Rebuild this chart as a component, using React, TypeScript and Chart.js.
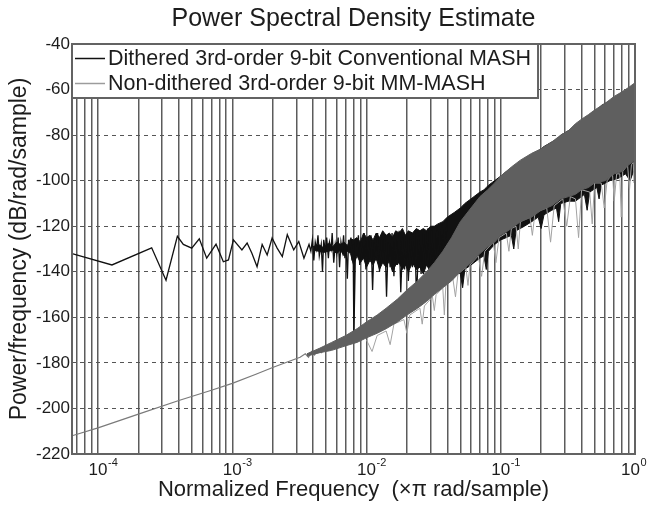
import React, { useEffect, useRef } from 'react';
import { Chart, registerables } from 'chart.js';

Chart.register(...registerables);

const FONT = '"Liberation Sans", Arial, Helvetica, sans-serif';
const TEXT = '#1c1c1c';

const TITLE = 'Power Spectral Density Estimate';
const X_TITLE = 'Normalized Frequency  (\u00d7\u03c0 rad/sample)';
const Y_TITLE = 'Power/frequency (dB/rad/sample)';
const SERIES_NAMES = [
  'Dithered 3rd-order 9-bit Conventional MASH',
  'Non-dithered 3rd-order 9-bit MM-MASH',
];

const X_MIN = 6.4e-5;
const X_MAX = 1;
const Y_MIN = -220;
const Y_MAX = -40;
const Y_STEP = 20;

// grid positions of the log axis (1..9 x 10^k)
const X_GRID_TICKS = [
  7e-5, 8e-5, 9e-5,
  1e-4, 2e-4, 3e-4, 4e-4, 5e-4, 6e-4, 7e-4, 8e-4, 9e-4,
  1e-3, 2e-3, 3e-3, 4e-3, 5e-3, 6e-3, 7e-3, 8e-3, 9e-3,
  1e-2, 2e-2, 3e-2, 4e-2, 5e-2, 6e-2, 7e-2, 8e-2, 9e-2,
  1e-1, 2e-1, 3e-1, 4e-1, 5e-1, 6e-1, 7e-1, 8e-1, 9e-1,
  1,
];
const X_MAJOR = [1e-4, 1e-3, 1e-2, 1e-1, 1];
const X_MAJOR_EXP = ['-4', '-3', '-2', '-1', '0'];

// Dithered conventional MASH: low/mid-frequency trace
const DITH_F = [
  6.4e-5, 1.27e-4, 2.51e-4, 3.21e-4, 3.9e-4, 4.32e-4, 4.99e-4, 5.68e-4, 6.45e-4, 7.57e-4,
  8.58e-4, 9.37e-4, 1.02e-3, 1.18e-3, 1.29e-3, 1.4e-3, 1.53e-3, 1.67e-3, 1.82e-3, 1.98e-3,
  2.16e-3, 2.36e-3, 2.57e-3, 2.87e-3, 3.13e-3, 3.42e-3, 3.73e-3, 3.85e-3, 3.95e-3, 4.05e-3,
  4.15e-3, 4.25e-3, 4.35e-3, 4.45e-3, 4.6e-3, 4.7e-3, 4.8e-3, 4.95e-3, 5.05e-3, 5.2e-3,
  5.3e-3, 5.45e-3, 5.55e-3, 5.7e-3, 5.85e-3, 6.0e-3, 6.15e-3, 6.3e-3, 6.45e-3, 6.6e-3,
  6.75e-3, 6.9e-3, 7.05e-3, 7.2e-3, 7.35e-3, 7.5e-3, 7.65e-3, 7.8e-3, 7.95e-3, 8.05e-3,
  8.3e-3, 8.5e-3, 8.7e-3, 8.9e-3, 9.1e-3, 9.4e-3, 9.6e-3, 9.9e-3, 1.02e-2, 1.05e-2,
  1.08e-2, 1.11e-2, 1.14e-2, 1.18e-2, 1.21e-2, 1.25e-2, 1.29e-2, 1.33e-2, 1.37e-2, 1.41e-2,
  1.45e-2, 1.5e-2, 1.55e-2, 1.6e-2, 1.65e-2, 1.7e-2, 1.75e-2, 1.8e-2, 1.86e-2, 1.92e-2,
  1.98e-2, 2.05e-2, 2.12e-2, 2.2e-2, 2.28e-2, 2.36e-2, 2.45e-2, 2.55e-2, 2.65e-2, 2.75e-2,
  2.85e-2, 2.95e-2, 3.05e-2, 3.2e-2, 3.35e-2, 3.5e-2, 3.65e-2, 3.8e-2, 4.0e-2,
];
const DITH_DB = [
  -132, -137, -129.5, -143.7, -124.4, -128, -129.6, -125.5, -134, -127.9,
  -135.6, -134.8, -126, -130.4, -127.4, -131.9, -137.8, -128, -132.6, -125.2,
  -129.6, -133.3, -123.7, -130.4, -126.7, -134, -128, -131, -126, -135,
  -127, -130, -124, -133, -128, -140, -126, -131, -125, -134,
  -127, -130, -123, -136, -128, -132, -125, -138, -127, -131,
  -124, -134, -129, -143, -126, -131, -125, -135, -128, -168,
  -126, -133, -124, -137, -127, -132, -123, -139, -126, -134,
  -124, -148, -127, -135, -123, -140, -126, -136, -124, -151,
  -127, -138, -123, -142, -126, -137, -122, -149, -125, -139,
  -124, -144, -125, -138, -122, -152, -124, -141, -123, -137,
  -121, -146, -122, -140, -120, -136, -119, -133, -117,
];

// Dithered conventional MASH: dense noise band (upper / lower envelope)
const DITH_BAND_F = [
  4.0e-3, 4.4e-3, 4.8e-3, 5.2e-3, 5.6e-3, 6.0e-3, 6.4e-3, 6.8e-3, 7.2e-3, 7.6e-3,
  8.0e-3, 8.5e-3, 9.0e-3, 9.5e-3, 1.0e-2, 1.06e-2, 1.12e-2, 1.18e-2, 1.25e-2, 1.32e-2,
  1.4e-2, 1.48e-2, 1.56e-2, 1.65e-2, 1.75e-2, 1.85e-2, 1.95e-2, 2.05e-2, 2.2e-2, 2.35e-2,
  2.5e-2, 2.65e-2, 2.8e-2, 3.0e-2, 3.2e-2, 3.4e-2, 3.7e-2, 4.0e-2, 4.5e-2, 5.0e-2,
  5.2e-2, 5.4e-2, 6.0e-2, 7.0e-2, 7.5e-2, 7.8e-2, 8.1e-2, 9.0e-2, 0.1, 0.11,
  0.12, 0.125, 0.13, 0.15, 0.17, 0.19, 0.2, 0.21, 0.24, 0.26,
  0.27, 0.28, 0.32, 0.36, 0.4, 0.42, 0.44, 0.46, 0.52, 0.54,
  0.56, 0.65, 0.75, 0.85, 0.92, 1.0,
];
const DITH_BAND_HI = [
  -129, -128, -129.5, -127.5, -129, -127, -128, -127, -128.5, -125.5,
  -126, -125, -127, -123, -125, -124, -126, -123, -125, -122,
  -124, -123, -125, -122, -123, -121, -124, -122, -123, -121,
  -122, -121, -122, -120, -120, -119, -118, -116, -114, -112,
  -111, -110, -108, -105, -104, -103, -102, -100, -98, -96,
  -95, -94, -93, -91, -89, -87, -86, -85, -83, -82,
  -81, -80, -78, -76, -74, -73, -72, -71, -69, -68,
  -67, -65, -63, -61, -60, -59,
];
const DITH_BAND_LO = [
  -130.5, -131, -131.5, -131, -130.5, -132, -130.5, -133, -131, -132,
  -137, -133, -136, -134, -138, -135, -137, -134, -139, -136,
  -138, -135, -140, -137, -136, -139, -137, -140, -136, -139,
  -138, -141, -137, -140, -138, -141, -139, -140, -139, -141,
  -147, -139, -137, -134, -133, -139, -131, -128, -126, -125,
  -124, -130, -122, -120, -118, -116, -121, -115, -113, -112,
  -118, -110, -109, -109, -107, -106, -113, -105, -103, -108,
  -102, -100, -99, -97, -100, -94,
];

// Non-dithered MM-MASH: low-frequency trace
const MM_F = [
  6.4e-5, 1e-4, 2e-4, 4e-4, 7e-4, 1e-3, 1.5e-3, 2e-3, 2.6e-3, 3.2e-3,
  3.5e-3, 3.7e-3, 3.9e-3, 4.1e-3, 4.3e-3, 4.6e-3, 4.9e-3, 5.2e-3, 5.5e-3, 5.8e-3,
  6.1e-3, 6.5e-3, 6.9e-3, 7.3e-3, 7.7e-3, 8.1e-3, 8.5e-3, 9e-3,
];
const MM_DB = [
  -212, -208.5, -202.5, -196.5, -192, -189, -185, -182, -179.5, -177.5,
  -176, -177.5, -175, -176.5, -174.5, -175.5, -173, -174.5, -172, -173.5,
  -171, -172.5, -170, -171.5, -169, -170.5, -168, -169.5,
];

// Non-dithered MM-MASH: noise band (upper / lower envelope)
const MM_BAND_F = [
  3.6e-3, 4.5e-3, 5.5e-3, 7e-3, 8.5e-3, 1.0e-2, 1.2e-2, 1.4e-2, 1.7e-2, 2.0e-2,
  2.4e-2, 2.8e-2, 3.2e-2, 3.7e-2, 4.3e-2, 5.0e-2, 6.0e-2, 7.0e-2, 8.0e-2, 9.0e-2,
  0.1, 0.12, 0.14, 0.17, 0.2, 0.24, 0.28, 0.32, 0.36, 0.4,
  0.45, 0.5, 0.6, 0.7, 0.8, 0.9, 1.0,
];
const MM_BAND_HI = [
  -176, -173.5, -171, -168, -165, -162, -159, -156, -152, -148,
  -144, -140, -136, -131, -125, -118, -112, -107, -104, -101,
  -98, -94, -91, -88, -86, -83, -80, -78, -75, -73,
  -71, -69, -66, -63, -61, -59, -57,
];
const MM_BAND_LO = [
  -177, -175.5, -174.5, -172.5, -171, -169, -167, -165, -162, -159,
  -156, -153, -150, -147, -144, -140, -136, -132, -129, -127,
  -124, -121, -118, -116, -113, -111, -108, -107, -106, -104,
  -103, -101, -100, -97, -96, -93, -91,
];

// Non-dithered MM-MASH: sparse downward spikes under the band
const MM_SPIKE_F = [
  0.010, 0.011, 0.012, 0.014, 0.015, 0.016, 0.019, 0.020, 0.021, 0.025,
  0.026, 0.027, 0.031, 0.032, 0.033, 0.037, 0.038, 0.039, 0.044, 0.046,
  0.048, 0.055, 0.057, 0.059, 0.068, 0.072, 0.076, 0.088, 0.092, 0.097,
  0.11, 0.115, 0.12, 0.13, 0.135, 0.14, 0.165, 0.172, 0.18, 0.22,
  0.235, 0.25, 0.29, 0.31, 0.33, 0.36, 0.38, 0.40, 0.46, 0.48,
  0.50, 0.56, 0.59, 0.62, 0.68, 0.70, 0.73, 0.77, 0.79, 0.81,
  0.88, 0.91, 0.94, 0.97, 0.985, 1.0,
];
const MM_SPIKE_DB = [
  -170, -175, -168, -166, -172, -163, -161, -167, -159, -156,
  -163, -155, -151, -157, -150, -147, -159, -146, -143, -151,
  -141, -138, -146, -137, -133, -142, -131, -127, -136, -125,
  -123, -131, -121, -120, -130, -118, -116, -124, -114, -112,
  -127, -111, -108, -120, -107, -108, -125, -104, -105, -119,
  -101, -101, -112, -100, -97, -109, -97, -97, -116, -96,
  -93, -104, -93, -92, -101, -91,
];

const zip = (xs: number[], ys: number[]) => xs.map((x, i) => ({ x, y: ys[i] }));

const DITH_COLOR = '#111111';
const MM_LINE_COLOR = '#7a7a7a';
const MM_BAND_COLOR = '#5f5f5f';
const MM_SPIKE_COLOR = '#a3a3a3';
const LEGEND_MM_COLOR = '#9c9c9c';

const overlayPlugin = {
  id: 'overlay',
  afterDraw(chart: any) {
    const { ctx, chartArea } = chart;
    const { left, top, right, bottom } = chartArea;
    ctx.save();
    // axes box
    ctx.strokeStyle = '#636363';
    ctx.lineWidth = 2;
    ctx.strokeRect(left, top, right - left, bottom - top);

    // title centred over the axes
    ctx.fillStyle = TEXT;
    ctx.font = `25px ${FONT}`;
    ctx.textAlign = 'center';
    ctx.textBaseline = 'middle';
    ctx.fillText(TITLE, (left + right) / 2, 19);

    // x tick labels with superscript exponents
    const xs = chart.scales.x;
    X_MAJOR.forEach((v, i) => {
      const px = xs.getPixelForValue(v);
      ctx.font = `17px ${FONT}`;
      const w = ctx.measureText('10').width;
      ctx.font = `11px ${FONT}`;
      const ws = ctx.measureText(X_MAJOR_EXP[i]).width;
      let cx = px;
      if (cx + w / 2 + ws > 646) cx = 646 - ws - w / 2;
      ctx.font = `17px ${FONT}`;
      ctx.textAlign = 'center';
      ctx.fillText('10', cx, bottom + 16);
      ctx.font = `11px ${FONT}`;
      ctx.textAlign = 'left';
      ctx.fillText(X_MAJOR_EXP[i], cx + w / 2 + 0.5, bottom + 9);
    });

    // legend
    const fs = 21.5;
    ctx.font = `${fs}px ${FONT}`;
    const tw = Math.max(...SERIES_NAMES.map((s) => ctx.measureText(s).width));
    const bx = left;
    const by = top;
    const textX = bx + 36;
    const bw = textX + tw + 7 - bx;
    const bh = 54;
    ctx.fillStyle = '#ffffff';
    ctx.fillRect(bx, by, bw, bh);
    ctx.strokeStyle = '#636363';
    ctx.lineWidth = 2;
    ctx.strokeRect(bx, by, bw, bh);
    const rows = [by + 14.5, by + 39.5];
    const cols = [DITH_COLOR, LEGEND_MM_COLOR];
    rows.forEach((y, i) => {
      ctx.strokeStyle = cols[i];
      ctx.lineWidth = 1.5;
      ctx.beginPath();
      ctx.moveTo(bx + 3, y);
      ctx.lineTo(bx + 33, y);
      ctx.stroke();
      ctx.fillStyle = TEXT;
      ctx.textAlign = 'left';
      ctx.textBaseline = 'middle';
      ctx.fillText(SERIES_NAMES[i], textX, y + 1);
    });
    ctx.restore();
  },
};

export default function App() {
  const ref = useRef<HTMLCanvasElement | null>(null);

  useEffect(() => {
    document.body.style.margin = '0';
    const canvas = ref.current;
    if (!canvas) return;
    const line = (extra: any) => ({
      pointRadius: 0,
      pointHoverRadius: 0,
      tension: 0,
      fill: false,
      ...extra,
    });
    const chart = new Chart(canvas, {
      type: 'line',
      data: {
        datasets: [
          line({
            label: 'mm-band-hi',
            data: zip(MM_BAND_F, MM_BAND_HI),
            borderColor: MM_BAND_COLOR,
            borderWidth: 1,
            order: 1,
          }),
          line({
            label: 'mm-band-lo',
            data: zip(MM_BAND_F, MM_BAND_LO),
            borderColor: MM_BAND_COLOR,
            backgroundColor: MM_BAND_COLOR,
            borderWidth: 1,
            fill: '-1',
            order: 1,
          }),
          line({
            label: SERIES_NAMES[1],
            data: zip(MM_F, MM_DB),
            borderColor: MM_LINE_COLOR,
            borderWidth: 1.2,
            order: 1,
          }),
          line({
            label: 'mm-spikes',
            data: zip(MM_SPIKE_F, MM_SPIKE_DB),
            borderColor: MM_SPIKE_COLOR,
            borderWidth: 1,
            order: 2,
          }),
          line({
            label: SERIES_NAMES[0],
            data: zip(DITH_F, DITH_DB),
            borderColor: DITH_COLOR,
            borderWidth: 1.3,
            order: 3,
          }),
          line({
            label: 'dith-band-hi',
            data: zip(DITH_BAND_F, DITH_BAND_HI),
            borderColor: DITH_COLOR,
            borderWidth: 1,
            order: 4,
          }),
          line({
            label: 'dith-band-lo',
            data: zip(DITH_BAND_F, DITH_BAND_LO),
            borderColor: DITH_COLOR,
            backgroundColor: DITH_COLOR,
            borderWidth: 1,
            fill: '-1',
            order: 4,
          }),
        ],
      },
      options: {
        responsive: false,
        animation: false,
        devicePixelRatio: 1,
        layout: { padding: { left: 0, right: 12, top: 44, bottom: 0 } },
        plugins: {
          legend: { display: false },
          tooltip: { enabled: false },
          title: { display: false },
        },
        scales: {
          x: {
            type: 'logarithmic',
            min: X_MIN,
            max: X_MAX,
            afterBuildTicks: (axis: any) => {
              axis.ticks = X_GRID_TICKS.map((v) => ({ value: v }));
            },
            afterFit: (axis: any) => {
              axis.height = 54;
              axis.paddingLeft = 0;
              axis.paddingRight = 0;
            },
            ticks: { display: false },
            grid: { color: '#5c5c5c', lineWidth: 1.5, drawTicks: false },
            border: { display: false },
            title: {
              display: true,
              text: X_TITLE,
              color: TEXT,
              font: { family: FONT, size: 22 },
              padding: { top: 0, bottom: 5 },
            },
          },
          y: {
            type: 'linear',
            min: Y_MIN,
            max: Y_MAX,
            afterFit: (axis: any) => {
              axis.width = 72;
              axis.paddingTop = 0;
              axis.paddingBottom = 0;
            },
            ticks: {
              stepSize: Y_STEP,
              color: TEXT,
              padding: 2,
              font: { family: FONT, size: 17 },
              callback: (v: any) => String(v),
            },
            grid: { color: '#555555', lineWidth: 1, drawTicks: false },
            border: { display: false, dash: [4, 4] },
            title: {
              display: true,
              text: Y_TITLE,
              color: TEXT,
              font: { family: FONT, size: 23 },
              padding: { top: 6, bottom: 0 },
            },
          },
        },
      },
      plugins: [overlayPlugin],
    } as any);
    return () => chart.destroy();
  }, []);

  return (
    <div style={{ position: 'fixed', left: 0, top: 0, width: 647, height: 508, background: '#ffffff' }}>
      <canvas ref={ref} width={647} height={508} style={{ display: 'block' }} />
    </div>
  );
}
